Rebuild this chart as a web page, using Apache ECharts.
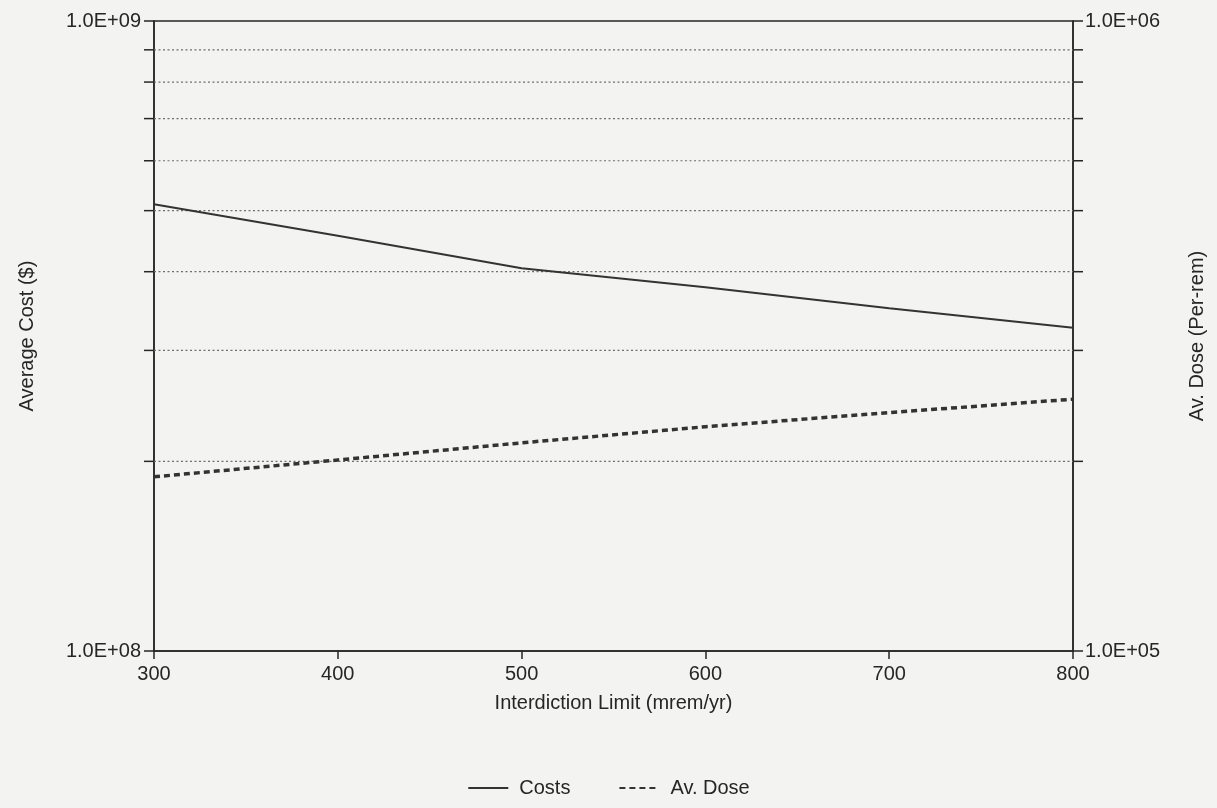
<!DOCTYPE html>
<html>
<head>
<meta charset="utf-8">
<script src="https://cdn.jsdelivr.net/npm/echarts@6/dist/echarts.min.js"></script>
<style>
  html, body { margin: 0; padding: 0; background: #f3f3f1; }
  #chart { width: 1217px; height: 808px; }
</style>
</head>
<body>
<div id="chart"></div>
<script>
// interdiction limit (mrem/yr)
const limits = [300, 400, 500, 600, 700, 800]
// average cost ($), left axis
const costs = [5.12e8, 4.56e8, 4.05e8, 3.78e8, 3.5e8, 3.26e8]
// average dose (person-rem), right axis
const doses = [1.89e5, 2.01e5, 2.14e5, 2.27e5, 2.39e5, 2.51e5]
// dotted gridlines at the log minor steps of the cost axis
const gridValues = [2e8, 3e8, 4e8, 5e8, 6e8, 7e8, 8e8, 9e8]

const font = 'Liberation Sans, Arial, sans-serif'
const ink = '#262626'

function expLabel(v) {
  const e = Math.round(Math.log10(v))
  return '1.0E+' + String(e).padStart(2, '0')
}

const chart = echarts.init(document.getElementById('chart'))

chart.setOption({
  backgroundColor: '#f3f3f1',
  animation: false,
  textStyle: { fontFamily: font, color: ink },
  grid: {
    left: 154, right: 144, top: 21, bottom: 157,
    show: true, borderColor: ink, borderWidth: 1.5
  },
  legend: {
    bottom: 5,
    left: 'center',
    itemWidth: 40,
    itemHeight: 10,
    itemGap: 48,
    itemStyle: { opacity: 0 },
    textStyle: { fontSize: 20, color: ink, fontFamily: font, padding: [0, 0, 0, 6] },
    data: ['Costs', 'Av. Dose']
  },
  xAxis: {
    type: 'value',
    min: 300, max: 800, interval: 100,
    name: 'Interdiction Limit (mrem/yr)',
    nameLocation: 'middle',
    nameGap: 42,
    nameTextStyle: { fontSize: 20, color: ink },
    axisLine: { lineStyle: { color: ink, width: 1.5 } },
    axisTick: { length: 8, lineStyle: { color: ink, width: 1.5 } },
    axisLabel: { fontSize: 20, color: ink, margin: 13 },
    splitLine: { show: false }
  },
  yAxis: [
    {
      type: 'log', logBase: 10,
      min: 1e8, max: 1e9,
      position: 'left',
      name: 'Average Cost ($)',
      nameLocation: 'middle',
      nameRotate: 90,
      nameGap: 117,
      nameTextStyle: { fontSize: 20, color: ink },
      axisLine: { show: true, lineStyle: { color: ink, width: 1.5 } },
      axisTick: { show: true, length: 10, lineStyle: { color: ink, width: 1.5 } },
      axisLabel: { fontSize: 20, color: ink, margin: 13, formatter: expLabel },
      splitLine: { show: false }
    },
    {
      type: 'log', logBase: 10,
      min: 1e5, max: 1e6,
      position: 'right',
      name: 'Av. Dose (Per-rem)',
      nameLocation: 'middle',
      nameRotate: 90,
      nameGap: 114,
      nameTextStyle: { fontSize: 20, color: ink },
      axisLine: { show: true, lineStyle: { color: ink, width: 1.5 } },
      axisTick: { show: true, length: 10, lineStyle: { color: ink, width: 1.5 } },
      axisLabel: { fontSize: 20, color: ink, margin: 12, formatter: expLabel },
      splitLine: { show: false }
    }
  ],
  series: [
    {
      name: 'grid',
      type: 'custom',
      yAxisIndex: 0,
      silent: true,
      clip: false,
      z: 1,
      data: gridValues.map(v => [300, v]),
      renderItem(params, api) {
        const v = api.value(1)
        const a = api.coord([300, v])
        const b = api.coord([800, v])
        const tick = { stroke: ink, lineWidth: 1.5 }
        return {
          type: 'group',
          children: [
            { type: 'line', shape: { x1: a[0], y1: a[1], x2: b[0], y2: b[1] },
              style: { stroke: '#6e6e6e', lineWidth: 1.2, lineDash: [2, 2.5] } },
            { type: 'line', shape: { x1: a[0] - 10, y1: a[1], x2: a[0], y2: a[1] }, style: tick },
            { type: 'line', shape: { x1: b[0], y1: b[1], x2: b[0] + 10, y2: b[1] }, style: tick }
          ]
        }
      }
    },
    {
      name: 'Costs',
      type: 'line',
      yAxisIndex: 0,
      symbol: 'none',
      z: 3,
      lineStyle: { color: '#333', width: 2 },
      itemStyle: { color: '#333' },
      data: limits.map((x, i) => [x, costs[i]])
    },
    {
      name: 'Av. Dose',
      type: 'line',
      yAxisIndex: 1,
      symbol: 'none',
      z: 3,
      lineStyle: { color: '#333', width: 3.5, type: [6, 4] },
      itemStyle: { color: '#333' },
      data: limits.map((x, i) => [x, doses[i]])
    }
  ]
})
</script>
</body>
</html>
